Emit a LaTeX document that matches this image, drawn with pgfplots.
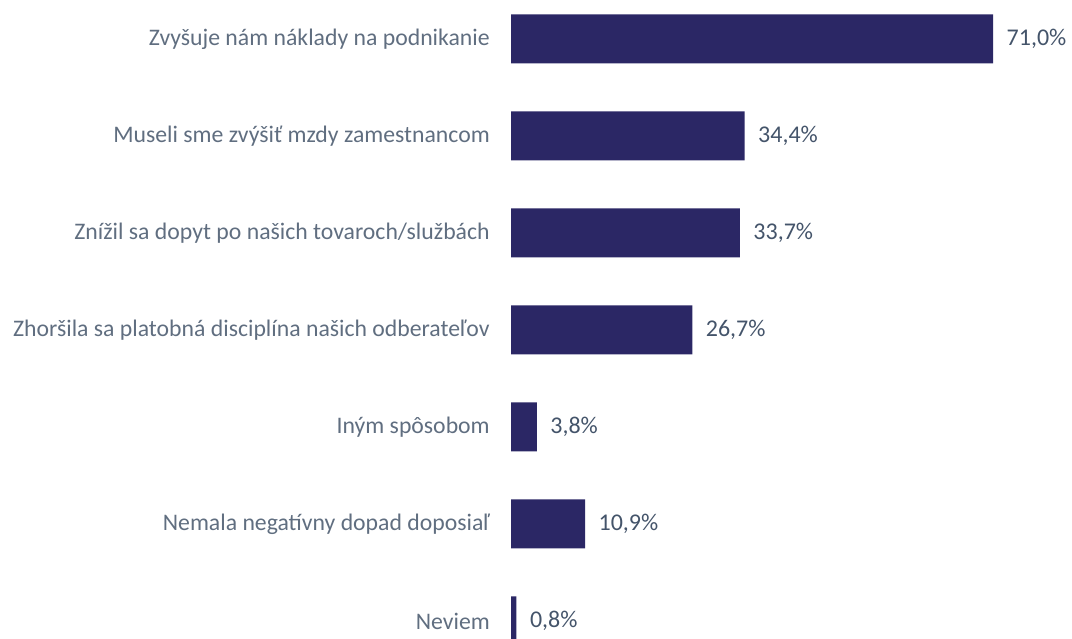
\documentclass[border=0pt]{standalone}
\usepackage{pgfplots}
\pgfplotsset{compat=1.18}
\usepackage{fontspec}
\setmainfont{Carlito}
\definecolor{barc}{HTML}{2B2765}
\definecolor{txtc}{HTML}{44546A}
\begin{document}
\begin{tikzpicture}
\begin{axis}[
  scale only axis,
  width=420.75pt, height=479.25pt,
  xmin=0, xmax=82.62,
  ymin=-0.402, ymax=6.186,
  y dir=reverse,
  axis line style={draw=none},
  tick style={draw=none},
  xtick=\empty,
  xbar, bar width=0.505,
  ytick={0,1,2,3,4,5,6},
  yticklabels={Zvyšuje nám náklady na podnikanie,Museli sme zvýšiť mzdy zamestnancom,Znížil sa dopyt po našich tovaroch/službách,Zhoršila sa platobná disciplína našich odberateľov,Iným spôsobom,Nemala negatívny dopad doposiaľ,Neviem},
  major tick length=0pt,
  yticklabel style={anchor=east, inner sep=0pt, xshift=-15.75pt, font=\fontsize{17.8}{20}\selectfont, text=txtc!85},
  nodes near coords={\pgfmathprintnumber[fixed, fixed zerofill, precision=1, use comma, assume math mode=true]{\pgfplotspointmeta}\%},
  nodes near coords style={anchor=west, inner sep=0pt, xshift=10pt, font=\fontsize{18}{20}\selectfont, text=txtc},
  point meta=explicit,
]
\addplot[fill=barc, draw=none] table[x=v, y=c, meta=v] {
c v
0 71.0
1 34.4
2 33.7
3 26.7
4 3.8
5 10.9
6 0.8
};
\coordinate (bl) at (axis description cs:-0.9109,0);
\coordinate (tr) at (axis description cs:1,1);
\end{axis}
\pgfresetboundingbox
\path[use as bounding box] (bl) rectangle (tr);
\end{tikzpicture}
\end{document}
